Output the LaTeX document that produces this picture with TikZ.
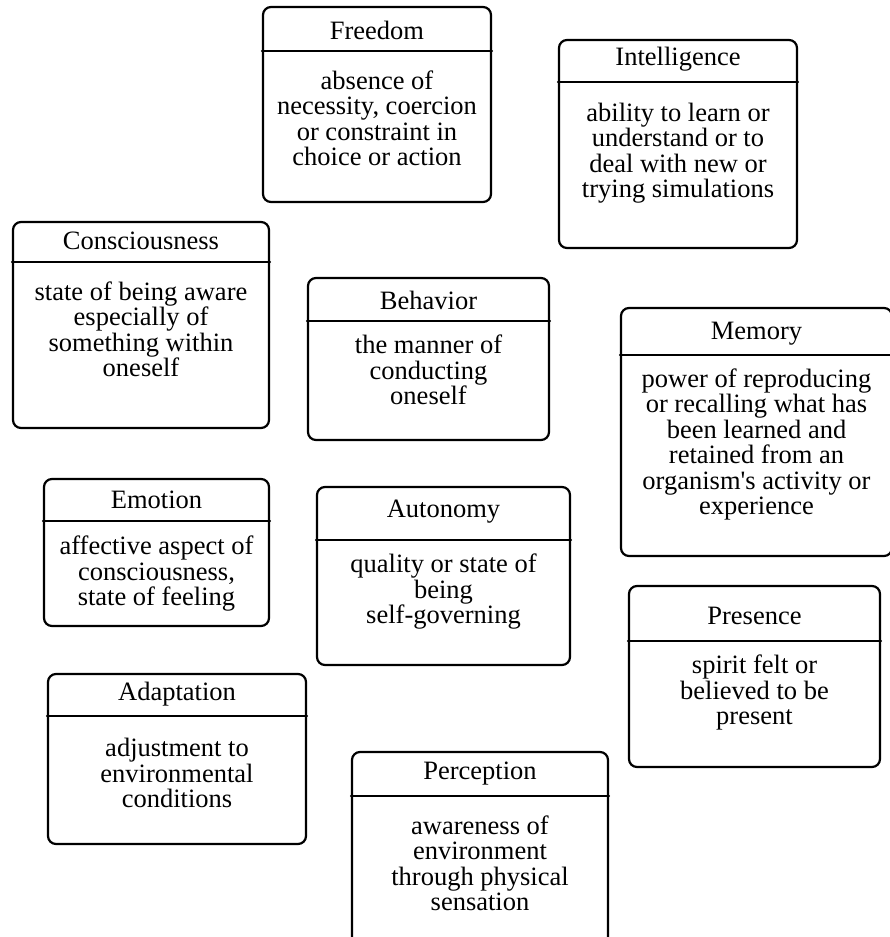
\documentclass[tikz,border=0pt]{standalone}
\usepackage{fontspec}
\setmainfont{Liberation Serif}
\usepackage{tikz}
\newcommand{\conceptfont}{\fontsize{26.5}{25.5}\selectfont}

\begin{document}
\begin{tikzpicture}[x=1pt,y=1pt,line cap=round,line join=round]
    \tikzset{
        concept/.style={draw, line width=2.2pt, rounded corners=8pt, inner sep=0pt},
        divider/.style={line width=2.2pt},
        concepttitle/.style={anchor=base, font=\conceptfont},
        % anchored at the baseline of the last line
        conceptbody/.style={anchor=base, align=center, font=\conceptfont},
    }
    \useasboundingbox (0,0) rectangle (890,-937);

    % Freedom
    \node[concept, minimum width=228, minimum height=195] (freedom) at (377,-104.5) {};
    \node[concepttitle] (freedomtitle) at ([yshift=-34]freedom.north) {Freedom};
    \draw[divider] ([yshift=-45]freedom.north west) -- ([yshift=-45]freedom.north east);
    \node[conceptbody] (freedomtext) at ([yshift=-160]freedom.north)
        {absence of\\necessity, coercion\\or constraint in\\choice or action};

    % Intelligence
    \node[concept, minimum width=238, minimum height=208] (intelligence) at (678,-144) {};
    \node[concepttitle] (intelligencetitle) at ([yshift=-27]intelligence.north) {Intelligence};
    \draw[divider] ([yshift=-43]intelligence.north west) -- ([yshift=-43]intelligence.north east);
    \node[conceptbody] (intelligencetext) at ([yshift=-159]intelligence.north)
        {ability to learn or\\understand or to\\deal with new or\\trying simulations};

    % Consciousness
    \node[concept, minimum width=256, minimum height=206] (consciousness) at (141,-325) {};
    \node[concepttitle] (consciousnesstitle) at ([yshift=-29]consciousness.north) {Consciousness};
    \draw[divider] ([yshift=-41]consciousness.north west) -- ([yshift=-41]consciousness.north east);
    \node[conceptbody] (consciousnesstext) at ([yshift=-156]consciousness.north)
        {state of being aware\\especially of\\something within\\oneself};

    % Behavior
    \node[concept, minimum width=241, minimum height=162] (behavior) at (428.5,-359) {};
    \node[concepttitle] (behaviortitle) at ([yshift=-33]behavior.north) {Behavior};
    \draw[divider] ([yshift=-44]behavior.north west) -- ([yshift=-44]behavior.north east);
    \node[conceptbody] (behaviortext) at ([yshift=-128]behavior.north)
        {the manner of\\conducting\\oneself};

    % Memory
    \node[concept, minimum width=271, minimum height=248] (memory) at (756.5,-432) {};
    \node[concepttitle] (memorytitle) at ([yshift=-33]memory.north) {Memory};
    \draw[divider] ([yshift=-48]memory.north west) -- ([yshift=-48]memory.north east);
    \node[conceptbody] (memorytext) at ([yshift=-208]memory.north)
        {power of reproducing\\or recalling what has\\been learned and\\retained from an\\organism\textquotesingle s activity or\\experience};

    % Emotion
    \node[concept, minimum width=225, minimum height=147] (emotion) at (156.5,-552.5) {};
    \node[concepttitle] (emotiontitle) at ([yshift=-31]emotion.north) {Emotion};
    \draw[divider] ([yshift=-43]emotion.north west) -- ([yshift=-43]emotion.north east);
    \node[conceptbody] (emotiontext) at ([yshift=-128]emotion.north)
        {affective aspect of\\consciousness,\\state of feeling};

    % Autonomy
    \node[concept, minimum width=253, minimum height=178] (autonomy) at (443.5,-576) {};
    \node[concepttitle] (autonomytitle) at ([yshift=-32]autonomy.north) {Autonomy};
    \draw[divider] ([yshift=-54]autonomy.north west) -- ([yshift=-54]autonomy.north east);
    \node[conceptbody] (autonomytext) at ([yshift=-138]autonomy.north)
        {quality or state of\\being\\self-governing};

    % Presence
    \node[concept, minimum width=251, minimum height=181] (presence) at (754.5,-676.5) {};
    \node[concepttitle] (presencetitle) at ([yshift=-40]presence.north) {Presence};
    \draw[divider] ([yshift=-56]presence.north west) -- ([yshift=-56]presence.north east);
    \node[conceptbody] (presencetext) at ([yshift=-140]presence.north)
        {spirit felt or\\believed to be\\present};

    % Adaptation
    \node[concept, minimum width=258, minimum height=170] (adaptation) at (177,-759) {};
    \node[concepttitle] (adaptationtitle) at ([yshift=-28]adaptation.north) {Adaptation};
    \draw[divider] ([yshift=-43]adaptation.north west) -- ([yshift=-43]adaptation.north east);
    \node[conceptbody] (adaptationtext) at ([yshift=-135]adaptation.north)
        {adjustment to\\environmental\\conditions};

    % Perception
    \node[concept, minimum width=256, minimum height=193] (perception) at (480,-848.5) {};
    \node[concepttitle] (perceptiontitle) at ([yshift=-29]perception.north) {Perception};
    \draw[divider] ([yshift=-45]perception.north west) -- ([yshift=-45]perception.north east);
    \node[conceptbody] (perceptiontext) at ([yshift=-160]perception.north)
        {awareness of\\environment\\through physical\\sensation};
\end{tikzpicture}
\end{document}
